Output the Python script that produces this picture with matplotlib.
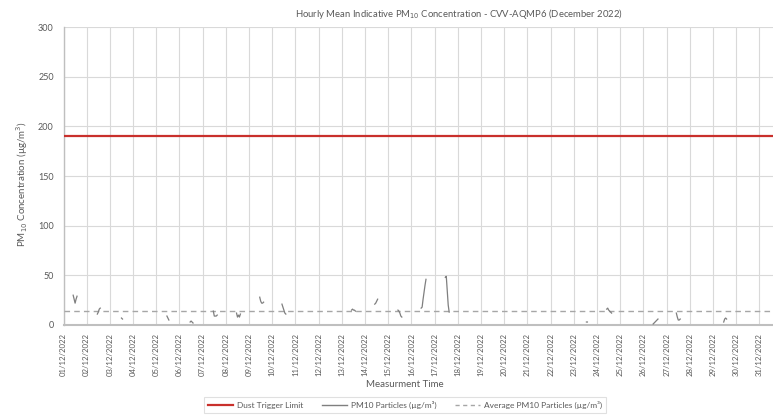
import numpy as np
import matplotlib
matplotlib.use("Agg")
import matplotlib.pyplot as plt
from matplotlib.lines import Line2D

plt.rcParams['font.family'] = ['Lato', 'DejaVu Sans']

# ---- data ----
day_labels = [f"{d:02d}/12/2022" for d in range(1, 32)]
dust_trigger_limit = 190
average_pm10 = 14

# hourly PM10 fragments (start hour from 01/12 00:00, hourly values)
frag_start = [10, 35, 60, 107, 131, 155, 179, 203, 226, 298, 322, 346,
              370, 395, 541, 562, 610, 634, 683]
frag_values = [
    [30, 26, 22, 26, 29],
    [11, 13, 16, 17],
    [7, 6],
    [9, 7, 5],
    [3, 4, 3, 2],
    [14, 9, 9, 9, 10],
    [12, 8, 10, 8, 11],
    [28, 24, 22, 22, 23],
    [21, 18, 15, 12, 11],
    [15, 16, 15, 15, 14],
    [21, 22, 24, 26],
    [15, 14, 12, 9, 8],
    [17, 18, 26, 33, 40, 46],
    [48, 49, 35, 20, 13],
    [3, 3],
    [16, 17, 15, 14, 13, 12],
    [1, 2, 3, 4, 5, 6],
    [12, 8, 5, 5, 6],
    [3, 6, 7, 6],
]

n_hours = 31 * 24
hours = np.arange(n_hours)
pm10 = np.full(n_hours, np.nan)
for s, vals in zip(frag_start, frag_values):
    pm10[s:s + len(vals)] = vals

# ---- figure ----
W, H = 773, 415
fig = plt.figure(figsize=(W / 100, H / 100), dpi=100)
left, right, top, bottom = 63.5, 773, 27, 325
ax = fig.add_axes([left / W, 1 - bottom / H, (right - left) / W, (bottom - top) / H])

txt = '#595959'
grid = '#D9D9D9'

ax.axhline(dust_trigger_limit, color='#C9302C', lw=1.6, zorder=3)
ax.plot(hours, pm10, color='#7F7F7F', lw=0.9, zorder=4)
ax.axhline(average_pm10, color='#A6A6A6', lw=1.0, ls=(0, (4, 3)), zorder=3)

ax.set_ylim(0, 300)
ax.set_xlim(0, 734)
ax.set_yticks(range(0, 301, 50))
ax.set_xticks([24 * i for i in range(31)])
ax.set_xticklabels(day_labels, rotation=90, fontsize=5.6, color=txt)
ax.tick_params(axis='y', labelsize=6.5, labelcolor=txt, length=0, pad=7)
ax.tick_params(axis='x', length=0, pad=6)
ax.grid(True, color=grid, lw=0.8)
ax.set_axisbelow(True)
for s in ['top', 'right']:
    ax.spines[s].set_visible(False)
ax.spines['left'].set_color('#BFBFBF')
ax.spines['left'].set_linewidth(1.0)
ax.spines['bottom'].set_color('#BFBFBF')
ax.spines['bottom'].set_linewidth(1.5)

fig.text(459 / W, 1 - 14 / H, 'Hourly Mean Indicative PM$_{10}$ Concentration - CVV-AQMP6 (December 2022)',
         ha='center', va='center', fontsize=6.8, color=txt)
fig.text(405 / W, 1 - 384 / H, 'Measurment Time', ha='center', va='center', fontsize=7, color=txt)
fig.text(22 / W, 1 - 184 / H, 'PM$_{10}$ Concentration (µg/m$^3$)', ha='center', va='center',
         rotation=90, fontsize=7, color=txt)

handles = [
    Line2D([], [], color='#C9302C', lw=1.6),
    Line2D([], [], color='#7F7F7F', lw=1.0),
    Line2D([], [], color='#A6A6A6', lw=1.0, ls=(0, (3, 2.5))),
]
labels = ['Dust Trigger Limit', 'PM10 Particles (µg/m³)', 'Average PM10 Particles (µg/m³)']
leg = fig.legend(handles, labels, loc='center', bbox_to_anchor=(405 / W, 1 - 405 / H), ncol=3,
                 fontsize=6, frameon=True, fancybox=False, edgecolor='#D9D9D9',
                 handlelength=3.0, columnspacing=2.2, borderpad=0.45, handletextpad=0.5)
for t in leg.get_texts():
    t.set_color(txt)
leg.get_frame().set_linewidth(0.8)

fig.savefig('out.png', dpi=100)
